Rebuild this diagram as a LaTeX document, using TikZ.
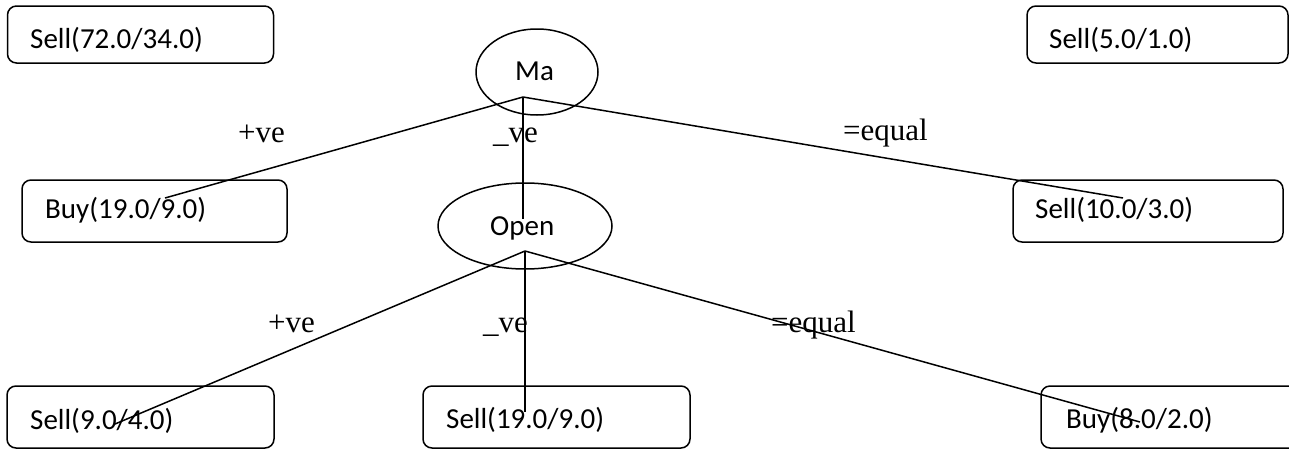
\documentclass[tikz,border=0pt]{standalone}
\usepackage{fontspec}
\setmainfont{Liberation Serif}
\newfontfamily\boxfont{Carlito}
\usetikzlibrary{shapes.geometric}
\tikzset{
  leaf/.style={draw, line width=1.5pt, rounded corners=9pt, inner sep=0pt},
  leaftext/.style={font=\boxfont\fontsize{29}{32}\selectfont, anchor=base west, inner sep=0pt},
  attr/.style={draw, ellipse, line width=1.5pt, inner sep=0pt},
  attrtext/.style={font=\boxfont\fontsize{29}{32}\selectfont, anchor=base west, inner sep=0pt},
  edge/.style={line width=1.5pt},
  lab/.style={font=\fontsize{31}{34}\selectfont, anchor=base west, inner sep=0pt}
}
\begin{document}
\begin{tikzpicture}[x=1pt,y=-1pt]
\useasboundingbox (0,0) rectangle (1289,450);
% leaf boxes
\node[leaf, minimum width=266pt, minimum height=57pt] (b1) at (140.5,34.5) {};
\node[leaftext] (t1) at (30,48) {Sell(72.0/34.0)};
\node[leaf, minimum width=261pt, minimum height=57pt] (b2) at (1157.5,34.5) {};
\node[leaftext] (t2) at (1049,48) {Sell(5.0/1.0)};
\node[leaf, minimum width=265pt, minimum height=62pt] (b3) at (154.5,211) {};
\node[leaftext] (t3) at (45,218) {Buy(19.0/9.0)};
\node[leaf, minimum width=270pt, minimum height=62pt] (b4) at (1148,211) {};
\node[leaftext] (t4) at (1035,218) {Sell(10.0/3.0)};
\node[leaf, minimum width=267pt, minimum height=62pt] (b5) at (140.5,417) {};
\node[leaftext] (t5) at (30,429) {Sell(9.0/4.0)};
\node[leaf, minimum width=267pt, minimum height=62pt] (b6) at (556.5,417) {};
\node[leaftext] (t6) at (446,428) {Sell(19.0/9.0)};
\node[leaf, minimum width=262pt, minimum height=62pt] (b7) at (1172,417) {};
\node[leaftext] (t7) at (1066,428) {Buy(8.0/2.0)};
% attribute ellipses
\node[attr, minimum width=122pt, minimum height=86pt] (ma) at (537,72) {};
\node[attrtext] (mat) at (515,80) {Ma};
\node[attr, minimum width=174pt, minimum height=86pt] (op) at (525,226) {};
\node[attrtext] (opt) at (490,235) {Open};
% junction and end points
\coordinate (maj) at (523,97);
\coordinate (e1) at (165,198);
\coordinate (e2) at (523,219);
\coordinate (e3) at (1123,198);
\coordinate (opj) at (525,251);
\coordinate (f1) at (115,424);
\coordinate (f2) at (525,412);
\coordinate (f3) at (1140,422);
% edges
\draw[edge] (maj) -- (e1);
\draw[edge] (maj) -- (e2);
\draw[edge] (maj) -- (e3);
\draw[edge] (opj) -- (f1);
\draw[edge] (opj) -- (f2);
\draw[edge] (opj) -- (f3);
% labels
\node[lab] (l1) at (238,142) {+ve};
\node[lab] (l2) at (493,142) {\_ve};
\node[lab] (l3) at (843,140) {=equal};
\node[lab] (l4) at (268,332) {+ve};
\node[lab] (l5) at (483,332) {\_ve};
\node[lab] (l6) at (771,332) {=equal};
\end{tikzpicture}
\end{document}
